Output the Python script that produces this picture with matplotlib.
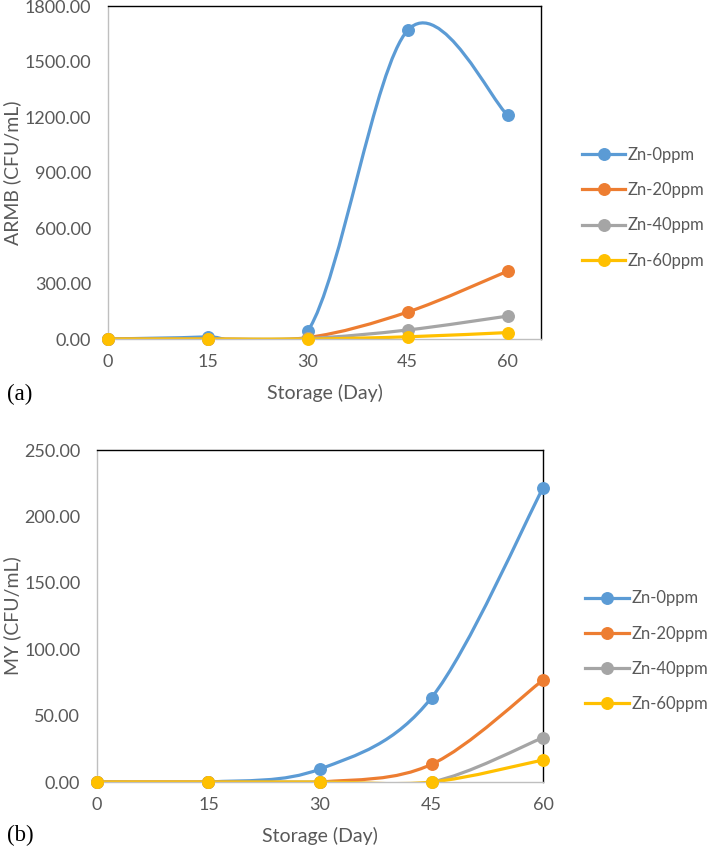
import numpy as np
import matplotlib
matplotlib.use("Agg")
import matplotlib.pyplot as plt
from matplotlib.path import Path
from matplotlib.patches import PathPatch
from matplotlib.lines import Line2D

# =========================
# DATA
# =========================

DAYS = [0, 15, 30, 45, 60]
SERIES = ["Zn-0ppm", "Zn-20ppm", "Zn-40ppm", "Zn-60ppm"]

ARMB_ZN0 = [0, 12, 43, 1669, 1210]
ARMB_ZN20 = [0, 0, 8, 146, 367]
ARMB_ZN40 = [0, 0, 3, 49, 124]
ARMB_ZN60 = [0, 0, 0, 12, 35]

MY_ZN0 = [0, 0, 9.8, 63.5, 221.5]
MY_ZN20 = [0, 0, 0, 13.3, 76.8]
MY_ZN40 = [0, 0, 0, 0, 33.4]
MY_ZN60 = [0, 0, 0, 0, 16.6]

ARMB_TICKS = [0, 300, 600, 900, 1200, 1500, 1800]
MY_TICKS = [0, 50, 100, 150, 200, 250]

# =========================
# STYLE
# =========================

COLORS = ["#5B9BD5", "#ED7D31", "#A5A5A5", "#FFC000"]
TEXT_GRAY = "#595959"
FONT = ["Lato", "DejaVu Sans"]
MARKER = 8.3
LINE_W = 2.3

plt.rcParams["font.family"] = FONT


def smooth_path(x, y):
    # Excel-like smoothed line: Catmull-Rom segments written as cubic Beziers
    x = np.asarray(x, float)
    y = np.asarray(y, float)
    n = len(x)
    verts = [(x[0], y[0])]
    codes = [Path.MOVETO]
    for i in range(n - 1):
        i0 = max(i - 1, 0)
        i3 = min(i + 2, n - 1)
        c1 = (x[i] + (x[i + 1] - x[i0]) / 6, y[i] + (y[i + 1] - y[i0]) / 6)
        c2 = (x[i + 1] - (x[i3] - x[i]) / 6, y[i + 1] - (y[i3] - y[i]) / 6)
        verts += [c1, c2, (x[i + 1], y[i + 1])]
        codes += [Path.CURVE4] * 3
    return Path(verts, codes)


def draw_panel(ax, values, ymax, yticks, ylabel, xmax, ylabel_x):
    for vals, color in zip(values, COLORS):
        ax.add_patch(PathPatch(smooth_path(DAYS, vals), facecolor="none",
                               edgecolor=color, linewidth=LINE_W,
                               capstyle="round", joinstyle="round"))
        ax.plot(DAYS, vals, "o", color=color, markersize=MARKER,
                clip_on=False, zorder=3)

    ax.set_xlim(0, xmax)
    ax.set_ylim(0, ymax)
    ax.set_xticks(DAYS)
    ax.set_yticks(yticks)
    ax.set_yticklabels([f"{t:.2f}" for t in yticks])
    ax.tick_params(axis="y", length=0, labelsize=13, colors=TEXT_GRAY, pad=12)
    ax.tick_params(axis="x", length=0, labelsize=13, colors=TEXT_GRAY, pad=11)

    ax.spines["left"].set_color("#BFBFBF")
    ax.spines["bottom"].set_color("#BFBFBF")
    ax.spines["top"].set_color("black")
    ax.spines["right"].set_color("black")
    for spine in ax.spines.values():
        spine.set_linewidth(1.0)

    ax.set_xlabel("Storage (Day)", fontsize=14, color=TEXT_GRAY, labelpad=10)
    ax.set_ylabel(ylabel, fontsize=14, color=TEXT_GRAY, va="center")
    ax.yaxis.set_label_coords(ylabel_x, 0.5)

    handles = [Line2D([], [], color=c, linewidth=LINE_W, marker="o",
                      markersize=MARKER) for c in COLORS]
    leg = ax.legend(handles, SERIES, loc="center left",
                    bbox_to_anchor=(1.095, 0.394), frameon=False,
                    borderpad=0, borderaxespad=0,
                    fontsize=12, handlelength=2.6, handletextpad=0.15,
                    labelspacing=1.15)
    for t in leg.get_texts():
        t.set_color(TEXT_GRAY)


fig = plt.figure(figsize=(7.09, 8.48), dpi=100)

ax1 = fig.add_axes([0.1523, 0.6002, 0.6107, 0.3927])
draw_panel(ax1, [ARMB_ZN0, ARMB_ZN20, ARMB_ZN40, ARMB_ZN60],
           1800, ARMB_TICKS, "ARMB (CFU/mL)", 65, -0.222)

ax2 = fig.add_axes([0.1368, 0.0778, 0.6291, 0.3915])
draw_panel(ax2, [MY_ZN0, MY_ZN20, MY_ZN40, MY_ZN60],
           250, MY_TICKS, "MY (CFU/mL)", 60, -0.191)

fig.text(0.010, 0.528, "(a)", fontsize=16.5, family="Liberation Serif")
fig.text(0.010, 0.008, "(b)", fontsize=16.5, family="Liberation Serif")

fig.savefig("out.png", dpi=100, facecolor="white")
